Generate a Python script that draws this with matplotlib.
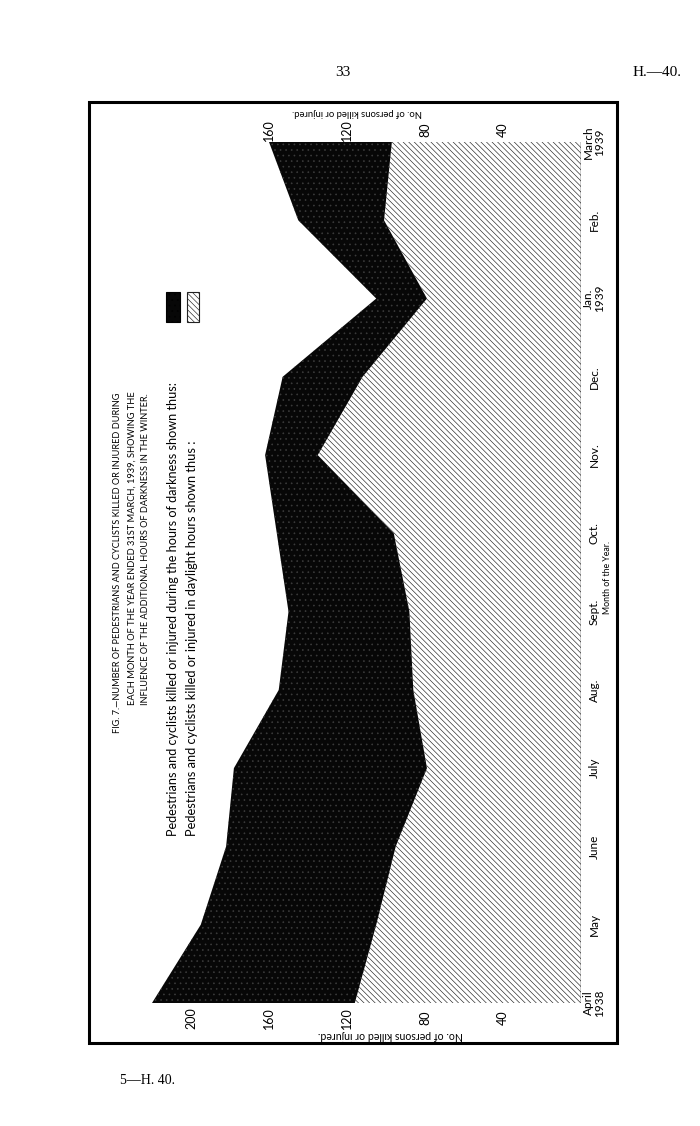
import matplotlib
matplotlib.use('Agg')
import matplotlib.pyplot as plt
from matplotlib.patches import Rectangle
import numpy as np

# ---- data ----
months = ["April\n1938", "May", "June", "July", "Aug.", "Sept.", "Oct.",
          "Nov.", "Dec.", "Jan.\n1939", "Feb.", "March\n1939"]
daylight = [116, 105, 95, 79, 86, 88, 96, 135, 112, 79, 101, 97]
darkness = [104, 90, 87, 99, 69, 62, 60, 27, 41, 26, 44, 63]
ticks_bottom = [40, 80, 120, 160, 200]
ticks_top = [40, 80, 120, 160]

title_lines = [
    "FIG. 7.\u2014NUMBER OF PEDESTRIANS AND CYCLISTS KILLED OR INJURED DURING",
    "EACH MONTH OF THE YEAR ENDED 31ST MARCH, 1939, SHOWING THE",
    "INFLUENCE OF THE ADDITIONAL HOURS OF DARKNESS IN THE WINTER.",
]
legend_dark = "Pedestrians and cyclists killed or injured during the hours of darkness shown thus:"
legend_day = "Pedestrians and cyclists killed or injured in daylight hours shown thus :"
value_label = "No. of persons killed or injured."
month_axis_label = "Month of the Year."

plt.rcParams['hatch.linewidth'] = 0.45
SANS = ['Lato', 'DejaVu Sans']
SERIF = ['Liberation Serif', 'DejaVu Serif']
HATCH = '\\' * 6

W, H = 700, 1126
fig = plt.figure(figsize=(W / 100, H / 100), dpi=100)
renderer = fig.canvas.get_renderer()


def fx(px):
    return px / W


def fy(py):
    return 1 - py / H


# ---- main axes (values run right-to-left, months bottom-to-top) ----
zero_px, scale = 581, 1.95
left_px, top_px, bot_px = 140, 142, 1003
ax = fig.add_axes([fx(left_px), fy(bot_px), (zero_px - left_px) / W, (bot_px - top_px) / H])
ax.set_xlim((zero_px - left_px) / scale, 0)
ax.set_ylim(0, len(months) - 1)
ax.axis('off')

pos = np.arange(len(months))
day = np.array(daylight)
total = day + np.array(darkness)
ax.fill_betweenx(pos, 0, day, facecolor='white', edgecolor='#222222',
                 hatch=HATCH, linewidth=0)
ax.fill_betweenx(pos, day, total, facecolor='#070707', edgecolor='#3c3c3c',
                 hatch='...', linewidth=0)
ax.plot([0, 0], [0, len(months) - 1], color='black', lw=1.0, solid_capstyle='butt')

unit_y = (bot_px - top_px) / (len(months) - 1)
for v in ticks_bottom:
    ax.text(v, -(1018 - bot_px) / unit_y, str(v), rotation=90, ha='center', va='center',
            fontsize=9, family=SANS, clip_on=False)
for v in ticks_top:
    ax.text(v, (len(months) - 1) + (top_px - 130) / unit_y, str(v), rotation=90,
            ha='center', va='center', fontsize=9, family=SANS, clip_on=False)
for i, m in enumerate(months):
    ax.text(-(594 - zero_px) / scale, i, m, rotation=90, ha='center', va='center',
            multialignment='center', fontsize=8.5, family=SANS, linespacing=0.95,
            clip_on=False)
ax.text(-(608 - zero_px) / scale, (bot_px - 577) / unit_y, month_axis_label, rotation=90,
        ha='center', va='center', fontsize=6.3, family=SANS, clip_on=False)


# ---- helpers for fitted text ----
def fit_vertical(s, x_px, y_start, y_end, size0=8, **kw):
    t = fig.text(fx(x_px), fy(y_start), s, rotation=90, ha='center', va='bottom',
                 fontsize=size0, family=SANS, **kw)
    L = t.get_window_extent(renderer).height
    t.set_fontsize(size0 * (y_start - y_end) / L)
    return t


def fit_flipped(s, x_c, y_c, width, size0=8):
    t = fig.text(fx(x_c), fy(y_c), s, rotation=180, ha='center', va='center',
                 fontsize=size0, family=SANS)
    L = t.get_window_extent(renderer).width
    t.set_fontsize(size0 * width / L)
    return t


# title
fit_vertical(title_lines[0], 118, 733, 393, size0=6)
fit_vertical(title_lines[1], 132, 705, 393, size0=6)
fit_vertical(title_lines[2], 145, 705, 393, size0=6)

# legend text
fit_vertical(legend_dark, 173, 836, 383, size0=9)
fit_vertical(legend_day, 192, 836, 438, size0=9)

# legend swatches
fig.add_artist(Rectangle((fx(166), fy(322)), 14 / W, 30 / H, transform=fig.transFigure,
                         facecolor='#070707', edgecolor='black', lw=0.8, hatch='...'))
fig.add_artist(Rectangle((fx(187), fy(322)), 12 / W, 30 / H, transform=fig.transFigure,
                         facecolor='white', edgecolor='#222222', lw=0.8, hatch=HATCH))

# value-axis labels (upside down)
fit_flipped(value_label, 357, 113, 132)
fit_flipped(value_label, 390, 1036, 146)

# frame
fig.add_artist(Rectangle((fx(89), fy(1043)), (617 - 89) / W, (1043 - 102) / H,
                         transform=fig.transFigure, fill=False, edgecolor='black', lw=2.2))

# page header / footer
fig.text(fx(343), fy(73), "33", ha='center', va='center', fontsize=11, family=SERIF)
fig.text(fx(657), fy(73), "H.\u201440.", ha='center', va='center', fontsize=11, family=SERIF)
fig.text(fx(148), fy(1080), "5\u2014H. 40.", ha='center', va='center', fontsize=10, family=SERIF)

fig.savefig('out.png', dpi=100, facecolor='white')
